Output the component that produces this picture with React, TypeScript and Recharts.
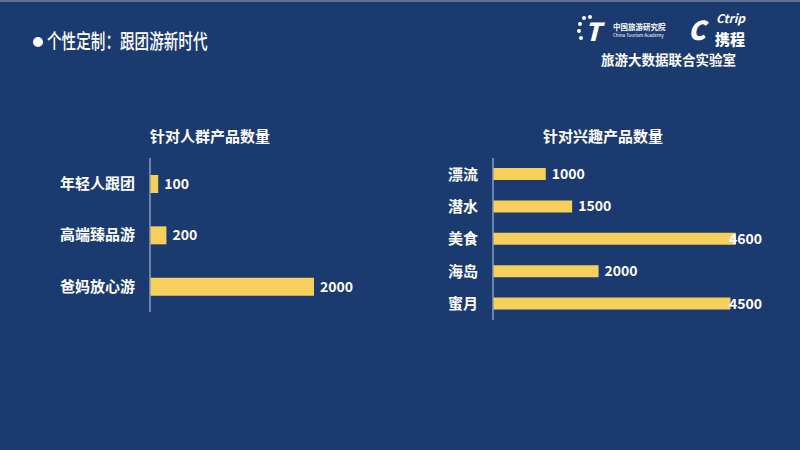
import React from 'react';
import { Bar, BarChart, LabelList, XAxis, YAxis } from 'recharts';

// ============ Data ============

const crowdCategories = ['年轻人跟团', '高端臻品游', '爸妈放心游'];
const crowdValues = [100, 200, 2000];

const interestCategories = ['漂流', '潜水', '美食', '海岛', '蜜月'];
const interestValues = [1000, 1500, 4600, 2000, 4500];

const BG = '#1b3a6f';
const BAR = '#f7cf5b';
const AXIS = '#8b9dbd';
const FONT = '"Noto Sans CJK SC", "Noto Sans", sans-serif';

const crowdData = crowdCategories.map((name, i) => ({ name, value: crowdValues[i] }));
const interestData = interestCategories.map((name, i) => ({ name, value: interestValues[i] }));

// ============ Value label (optionally kept inside the plot) ============

const makeLabel = (maxOffset: number) => (props: any) => {
  const { x, y, width, height, value } = props;
  const lx = Math.min(x + width + 6, x + maxOffset);
  return (
    <text
      x={lx}
      y={y + height / 2}
      dy="0.36em"
      fill="#ffffff"
      fontSize={14}
      fontWeight={700}
      fontFamily={FONT}
    >
      {value}
    </text>
  );
};

// ============ Chart ============

const HBarChart: React.FC<{
  data: { name: string; value: number }[];
  width: number;
  height: number;
  axisWidth: number;
  max: number;
  barSize: number;
  labelMax?: number;
}> = ({ data, width, height, axisWidth, max, barSize, labelMax = Infinity }) => (
  <BarChart
    width={width}
    height={height}
    data={data}
    layout="vertical"
    margin={{ top: 0, right: 0, bottom: 0, left: 0 }}
    barCategoryGap={0}
  >
    <XAxis type="number" domain={[0, max]} hide />
    <YAxis
      type="category"
      dataKey="name"
      width={axisWidth}
      axisLine={{ stroke: AXIS, strokeWidth: 1.5 }}
      tickLine={false}
      tickSize={0}
      tickMargin={15}
      tick={{ fill: '#ffffff', fontSize: 15, fontWeight: 700, fontFamily: FONT }}
    />
    <Bar dataKey="value" fill={BAR} barSize={barSize} isAnimationActive={false}>
      <LabelList dataKey="value" content={makeLabel(labelMax)} />
    </Bar>
  </BarChart>
);

// ============ Header logos ============

const star = (left: number, top: number) => (
  <div style={{ position: 'absolute', left, top, width: 4, height: 4, borderRadius: 2, background: '#fff' }} />
);

const Logos: React.FC = () => (
  <div style={{ position: 'absolute', left: 560, top: 0, width: 240, height: 70, fontFamily: FONT, color: '#fff' }}>
    {star(22, 14)}
    {star(28, 13)}
    {star(18, 20)}
    {star(17, 27)}
    {star(19, 34)}
    <div style={{ position: 'absolute', left: 25, top: 16, fontSize: 25, fontWeight: 900, fontStyle: 'italic', lineHeight: '25px' }}>
      T
    </div>
    <div style={{ position: 'absolute', left: 53, top: 21, fontSize: 7.5, fontWeight: 700, lineHeight: '8px' }}>中国旅游研究院</div>
    <div style={{ position: 'absolute', left: 53, top: 31, fontSize: 4.5, lineHeight: '5px', whiteSpace: 'nowrap' }}>
      China Tourism Academy
    </div>
    <div style={{ position: 'absolute', left: 128, top: 13, fontSize: 26, fontWeight: 900, fontStyle: 'italic', lineHeight: '28px' }}>
      C
    </div>
    <div style={{ position: 'absolute', left: 156, top: 10, fontSize: 12, fontWeight: 700, fontStyle: 'italic', lineHeight: '12px' }}>
      Ctrip
    </div>
    <div style={{ position: 'absolute', left: 155, top: 29, fontSize: 15, fontWeight: 900, lineHeight: '15px' }}>携程</div>
    <div style={{ position: 'absolute', left: 41, top: 49, fontSize: 13.5, fontWeight: 700, lineHeight: '16px', whiteSpace: 'nowrap' }}>
      旅游大数据联合实验室
    </div>
  </div>
);

// ============ Main ============

const App: React.FC = () => (
  <div
    style={{
      position: 'absolute',
      left: 0,
      top: 0,
      width: 800,
      height: 450,
      background: BG,
      overflow: 'hidden',
      fontFamily: FONT,
      borderTop: '2px solid #5f7193',
      boxSizing: 'border-box',
    }}
  >
    <div style={{ position: 'absolute', left: 33, top: 35, width: 10, height: 10, borderRadius: 5, background: '#fff' }} />
    <div
      style={{
        position: 'absolute',
        left: 47,
        top: 29,
        color: '#fff',
        fontSize: 14.6,
        fontWeight: 500,
        lineHeight: '20px',
        whiteSpace: 'nowrap',
        transform: 'scaleY(1.4)',
        transformOrigin: 'left center',
      }}
    >
      个性定制：跟团游新时代
    </div>
    <Logos />

    <div style={{ position: 'absolute', left: 150, top: 124, width: 120, textAlign: 'center', color: '#fff', fontSize: 15, fontWeight: 700, lineHeight: '20px' }}>
      针对人群产品数量
    </div>
    <div style={{ position: 'absolute', left: 543, top: 124, width: 120, textAlign: 'center', color: '#fff', fontSize: 15, fontWeight: 700, lineHeight: '20px' }}>
      针对兴趣产品数量
    </div>

    <div style={{ position: 'absolute', left: 0, top: 156 }}>
      <HBarChart data={crowdData} width={355} height={154} axisWidth={150} max={2500} barSize={18} />
    </div>
    <div style={{ position: 'absolute', left: 343, top: 156 }}>
      <HBarChart data={interestData} width={435} height={162} axisWidth={150} max={5400} barSize={12} labelMax={236} />
    </div>
  </div>
);

export default App;
